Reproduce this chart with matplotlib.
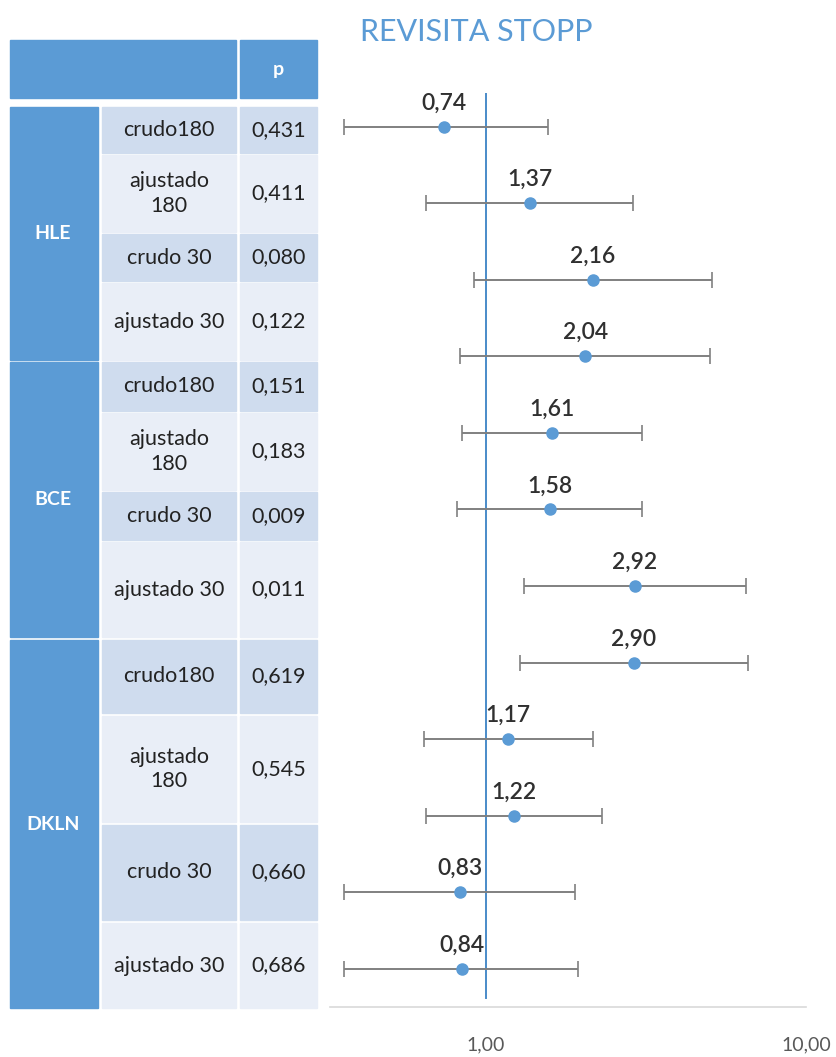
import numpy as np
import matplotlib
matplotlib.use("Agg")
import matplotlib.pyplot as plt
from matplotlib.patches import Rectangle
from matplotlib.ticker import FixedLocator, NullLocator

plt.rcParams['font.family'] = ['Lato', 'DejaVu Sans']

# odds ratios with 95% CI, one row per model
groups = ['HLE', 'BCE', 'DKLN']
models = ['crudo180', 'ajustado\n180', 'crudo 30', 'ajustado 30']
p_values = ['0,431', '0,411', '0,080', '0,122',
            '0,151', '0,183', '0,009', '0,011',
            '0,619', '0,545', '0,660', '0,686']
odds = [0.74, 1.37, 2.16, 2.04, 1.61, 1.58, 2.92, 2.90, 1.17, 1.22, 0.83, 0.84]
ci_low = [0.36, 0.65, 0.92, 0.83, 0.84, 0.81, 1.31, 1.28, 0.64, 0.65, 0.36, 0.36]
ci_high = [1.56, 2.87, 5.09, 5.02, 3.07, 3.07, 6.49, 6.58, 2.16, 2.31, 1.90, 1.94]
x_ticks = [1, 10]

blue = '#5B9BD5'
band_dark = '#CFDCEE'
band_light = '#E9EEF7'
err_grey = '#808080'

W, H = 836, 1057
fig = plt.figure(figsize=(W / 100, H / 100), dpi=100)

# forest plot
ax = fig.add_axes([330 / W, 1 - 1007 / H, 476 / W, 914 / H])
odds = np.array(odds)
ypos = np.arange(len(odds))
err = np.vstack([odds - np.array(ci_low), np.array(ci_high) - odds])
ax.errorbar(odds, ypos, xerr=err, fmt='none', ecolor=err_grey, elinewidth=1.4,
            capsize=6, capthick=1.2, zorder=2)
ax.plot(odds, ypos, 'o', color=blue, markersize=8, zorder=3)
ax.axvline(1, ymin=0.01, color='#4A8BC9', lw=1.4, zorder=1)
for x, y in zip(odds, ypos):
    ax.annotate(f"{x:.2f}".replace('.', ','), (x, y), xytext=(0, 17),
                textcoords='offset points', ha='center', va='center',
                fontsize=16.5, fontweight='semibold', color='#303030', zorder=4)

ax.set_xscale('log')
ax.set_xlim(10 ** (-156 / 320), 10)
ax.set_ylim(11.5, -0.44)
ax.xaxis.set_major_locator(FixedLocator(x_ticks))
ax.xaxis.set_minor_locator(NullLocator())
ax.set_xticklabels([f"{t:.2f}".replace('.', ',') for t in x_ticks])
ax.tick_params(axis='x', length=0, pad=21, labelsize=14, labelcolor='#595959')
ax.set_yticks([])
for s in ['top', 'left', 'right']:
    ax.spines[s].set_visible(False)
ax.spines['bottom'].set_color('#D9D9D9')
ax.spines['bottom'].set_linewidth(1.2)

fig.text(476 / W, 1 - 32 / H, 'REVISITA STOPP', ha='center', va='center',
         fontsize=22, color=blue)

# table on the left
tab = fig.add_axes([0, 0, 1, 1], zorder=5)
tab.set_xlim(0, W)
tab.set_ylim(H, 0)
tab.axis('off')
tab.patch.set_alpha(0)

col_group = (10, 98)
col_model = (102, 236)
col_p = (240, 317)

tab.add_patch(Rectangle((col_group[0], 40), col_model[1] - col_group[0], 58, color=blue))
tab.add_patch(Rectangle((col_p[0], 40), col_p[1] - col_p[0], 58, color=blue))
tab.text(sum(col_p) / 2, 70, 'p', ha='center', va='center', color='white',
         fontsize=14, fontweight='bold')

row_top = [107, 155, 234, 283, 362, 413, 492, 542, 640, 716, 825, 923]
row_bot = [153, 232, 281, 360, 411, 490, 540, 637, 713, 822, 920, 1008]

for i, (t, b) in enumerate(zip(row_top, row_bot)):
    shade = band_dark if i % 2 == 0 else band_light
    for c0, c1 in (col_model, col_p):
        tab.add_patch(Rectangle((c0, t), c1 - c0, b - t, color=shade))
    yc = (t + b) / 2
    tab.text(sum(col_model) / 2, yc, models[i % 4], ha='center', va='center',
             fontsize=15.5, color='#222222', linespacing=1.3)
    tab.text(sum(col_p) / 2, yc, p_values[i], ha='center', va='center',
             fontsize=15.5, color='#222222')

for g, name in enumerate(groups):
    t = row_top[g * 4]
    b = row_bot[g * 4 + 3]
    tab.add_patch(Rectangle((col_group[0], t), col_group[1] - col_group[0], b - t, color=blue))
    tab.text(sum(col_group) / 2 - 1, (t + b) / 2, name, ha='center', va='center',
             color='white', fontsize=14, fontweight='bold')

fig.savefig('out.png', dpi=100)
